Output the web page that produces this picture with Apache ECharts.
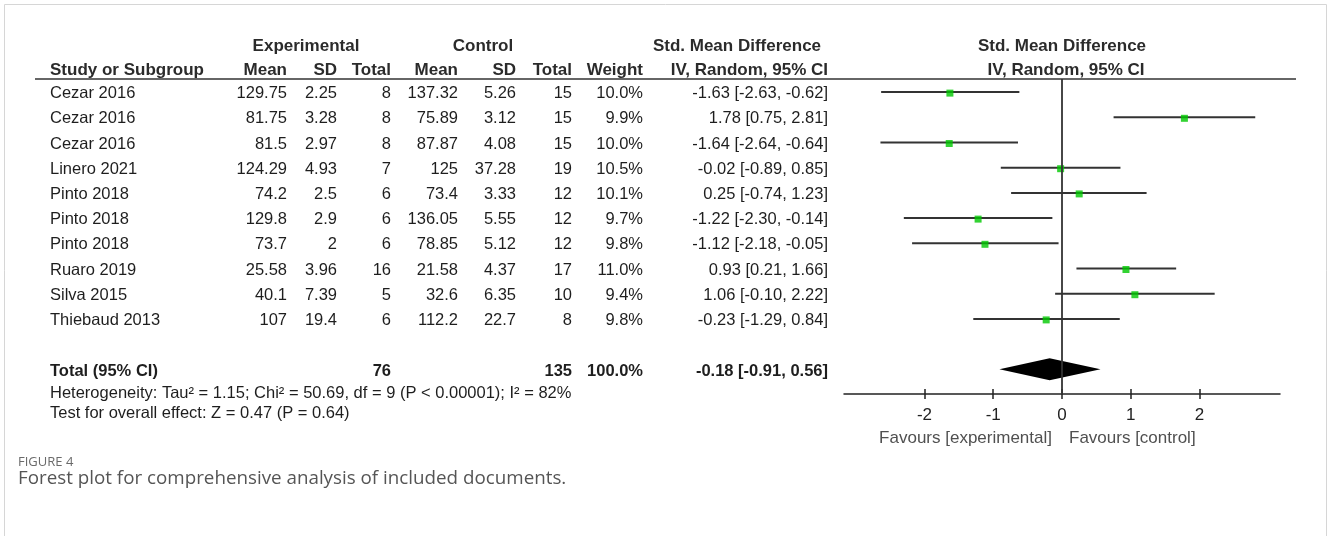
<!DOCTYPE html>
<html><head><meta charset="utf-8">
<script src="https://cdn.jsdelivr.net/npm/echarts@6/dist/echarts.min.js"></script>
<style>html,body{margin:0;padding:0;background:#fff}#c{width:1328px;height:536px}</style>
</head><body><div id="c"></div>
<script>
// ---- data ----
const studies = ['Cezar 2016','Cezar 2016','Cezar 2016','Linero 2021','Pinto 2018','Pinto 2018','Pinto 2018','Ruaro 2019','Silva 2015','Thiebaud 2013'];
const expMean = ['129.75','81.75','81.5','124.29','74.2','129.8','73.7','25.58','40.1','107'];
const expSD = ['2.25','3.28','2.97','4.93','2.5','2.9','2','3.96','7.39','19.4'];
const expTotal = [8,8,8,7,6,6,6,16,5,6];
const ctlMean = ['137.32','75.89','87.87','125','73.4','136.05','78.85','21.58','32.6','112.2'];
const ctlSD = ['5.26','3.12','4.08','37.28','3.33','5.55','5.12','4.37','6.35','22.7'];
const ctlTotal = [15,15,15,19,12,12,12,17,10,8];
const weights = ['10.0%','9.9%','10.0%','10.5%','10.1%','9.7%','9.8%','11.0%','9.4%','9.8%'];
const smd = [-1.63,1.78,-1.64,-0.02,0.25,-1.22,-1.12,0.93,1.06,-0.23];
const ciLow = [-2.63,0.75,-2.64,-0.89,-0.74,-2.30,-2.18,0.21,-0.10,-1.29];
const ciHigh = [-0.62,2.81,-0.64,0.85,1.23,-0.14,-0.05,1.66,2.22,0.84];
const totalExp = 76, totalCtl = 135, totalWeight = '100.0%';
const totalSmd = -0.18, totalLow = -0.91, totalHigh = 0.56;
const xTicks = [-2,-1,0,1,2];
const heterogeneityText = 'Heterogeneity: Tau\u00b2 = 1.15; Chi\u00b2 = 50.69, df = 9 (P < 0.00001); I\u00b2 = 82%';
const overallText = 'Test for overall effect: Z = 0.47 (P = 0.64)';
const captionLabel = 'FIGURE 4';
const captionText = 'Forest plot for comprehensive analysis of included documents.';

// ---- layout ----
const FONT = "'Liberation Sans', Arial, sans-serif";
const FS = 16.5, FSB = 17;
const TOTAL_ROW = studies.length + 1;
const chart = echarts.init(document.getElementById('c'), null, {renderer:'canvas'});
const fmt = v => v.toFixed(2);
const ciText = (e,l,h) => fmt(e) + ' [' + fmt(l) + ', ' + fmt(h) + ']';

const option = {
  animation: false,
  grid: {left: 844, width: 436, top: 79, height: 315},
  xAxis: [{
    type: 'value', min: -3.17, max: 3.17, position: 'bottom',
    splitLine: {show: false},
    axisLine: {onZero: false, lineStyle: {color: '#222', width: 1.5}},
    axisTick: {customValues: xTicks, length: 5, lineStyle: {color: '#222', width: 1.5}},
    axisLabel: {customValues: xTicks, margin: 13, fontSize: 17, color: '#222', fontFamily: FONT}
  }, {
    type: 'value', min: -3.17, max: 3.17, position: 'bottom',
    splitLine: {show: false},
    axisLine: {show: false, onZero: false},
    axisTick: {inside: true, customValues: xTicks, length: 5, lineStyle: {color: '#222', width: 1.5}},
    axisLabel: {show: false}
  }],
  yAxis: {type: 'value', inverse: true, min: -0.52, max: 11.98, show: false},
  series: [{
    type: 'custom',
    data: studies.map((s, i) => [ciLow[i], ciHigh[i], i]),
    encode: {x: [0, 1], y: 2},
    renderItem: function (params, api) {
      const a = api.coord([api.value(0), api.value(2)]);
      const b = api.coord([api.value(1), api.value(2)]);
      return {type: 'line', shape: {x1: a[0], y1: a[1], x2: b[0], y2: b[1]},
        style: {stroke: '#333', lineWidth: 2}};
    },
    z: 2
  }, {
    type: 'scatter',
    data: studies.map((s, i) => [smd[i], i]),
    symbol: 'rect', symbolSize: 7, symbolOffset: [0, 1],
    itemStyle: {color: '#00c800'},
    z: 4,
    markLine: {
      silent: true, symbol: 'none', animation: false,
      label: {show: false},
      lineStyle: {color: '#333', width: 1.8, type: 'solid'},
      data: [{xAxis: 0}]
    }
  }, {
    type: 'custom',
    data: [[totalSmd, totalLow, totalHigh, TOTAL_ROW]],
    encode: {x: [0, 1, 2], y: 3},
    renderItem: function (params, api) {
      const c = api.coord([api.value(0), api.value(3)]);
      const l = api.coord([api.value(1), api.value(3)]);
      const r = api.coord([api.value(2), api.value(3)]);
      const h = 11;
      return {type: 'polygon', shape: {points: [[l[0], l[1]], [c[0], c[1] - h], [r[0], r[1]], [c[0], c[1] + h]]},
        style: {fill: '#000'}};
    },
    z: 3
  }]
};
chart.setOption(option);

// ---- table text, aligned on the y axis scale ----
const rowY = i => chart.convertToPixel({yAxisIndex: 0}, i) + 1.5;
const g = [];
function txt(text, x, y, align, opts) {
  opts = opts || {};
  g.push({type: 'text', x: x, y: y, silent: true, z: 10, style: {
    text: String(text), align: align, verticalAlign: 'middle',
    fontSize: opts.fs || FS, fontFamily: opts.ff || FONT, fontWeight: opts.fw || 'normal',
    fill: opts.color || '#1e1e1e'
  }});
}
// frame
g.push({type: 'rect', silent: true, shape: {x: 4.5, y: 4.5, width: 1322, height: 600},
  style: {fill: 'none', stroke: '#d6d6d6', lineWidth: 1}});
// header underline
g.push({type: 'line', silent: true, shape: {x1: 35, y1: 79, x2: 1296, y2: 79},
  style: {stroke: '#333', lineWidth: 1.6}});

const H = {fw: 'bold', color: '#2b2b2b', fs: FSB};
const hy1 = 46, hy2 = 70;
txt('Experimental', 306, hy1, 'center', H);
txt('Control', 483, hy1, 'center', H);
txt('Std. Mean Difference', 737, hy1, 'center', H);
txt('Std. Mean Difference', 1062, hy1, 'center', H);
txt('Study or Subgroup', 50, hy2, 'left', H);
txt('Mean', 287, hy2, 'right', H);
txt('SD', 337, hy2, 'right', H);
txt('Total', 391, hy2, 'right', H);
txt('Mean', 458, hy2, 'right', H);
txt('SD', 516, hy2, 'right', H);
txt('Total', 572, hy2, 'right', H);
txt('Weight', 643, hy2, 'right', H);
txt('IV, Random, 95% CI', 828, hy2, 'right', H);
txt('IV, Random, 95% CI', 1066, hy2, 'center', H);

studies.forEach((s, i) => {
  const y = rowY(i);
  txt(s, 50, y, 'left');
  txt(expMean[i], 287, y, 'right');
  txt(expSD[i], 337, y, 'right');
  txt(expTotal[i], 391, y, 'right');
  txt(ctlMean[i], 458, y, 'right');
  txt(ctlSD[i], 516, y, 'right');
  txt(ctlTotal[i], 572, y, 'right');
  txt(weights[i], 643, y, 'right');
  txt(ciText(smd[i], ciLow[i], ciHigh[i]), 828, y, 'right');
});
const ty = rowY(TOTAL_ROW) + 1;
const B = {fw: 'bold'};
txt('Total (95% CI)', 50, ty, 'left', B);
txt(totalExp, 391, ty, 'right', B);
txt(totalCtl, 572, ty, 'right', B);
txt(totalWeight, 643, ty, 'right', B);
txt(ciText(totalSmd, totalLow, totalHigh), 828, ty, 'right', B);
txt(heterogeneityText, 50, 393, 'left');
txt(overallText, 50, 413, 'left');

const zx = chart.convertToPixel({xAxisIndex: 0}, 0);
txt('Favours [experimental]', zx - 10, 438, 'right', {color: '#505050', fs: 17});
txt('Favours [control]', zx + 7, 438, 'left', {color: '#505050', fs: 17});

txt(captionLabel, 18, 462, 'left', {fs: 13, ff: "'Open Sans', sans-serif", color: '#6a6a6a'});
txt(captionText, 18, 479, 'left', {fs: 18.8, ff: "'Open Sans', sans-serif", color: '#555'});

chart.setOption({graphic: {elements: g}});
</script></body></html>
